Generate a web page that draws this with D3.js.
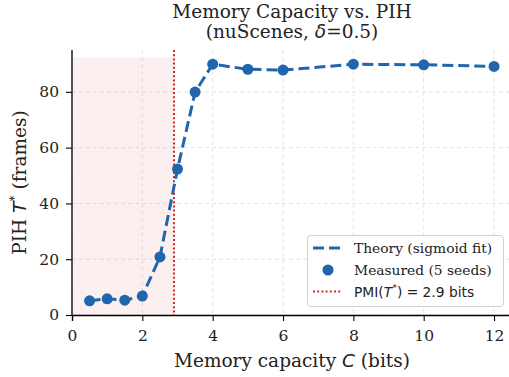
<!DOCTYPE html>
<html>
<head>
<meta charset="utf-8">
<script src="https://cdn.jsdelivr.net/npm/d3@7"></script>
<style>
  body { margin: 0; background: #fff; }
  svg { display: block; }
</style>
</head>
<body>
<div id="chart"></div>
<script>
// measured PIH per memory capacity (bits)
var capacity = [0.5, 1.0, 1.5, 2.0, 2.5, 3.0, 3.5, 4.0, 5.0, 6.0, 8.0, 10.0, 12.0];
var pih = [5.1, 5.8, 5.3, 6.8, 20.8, 52.3, 79.9, 89.9, 88.1, 87.8, 89.9, 89.7, 89.1];
var pmiBits = 2.9;
var shadeTop = 92.4;
var xTicks = [0, 2, 4, 6, 8, 10, 12];
var yTicks = [0, 20, 40, 60, 80];

var W = 509, H = 377;
var mLeft = 72, mTop = 50, mBottom = 315;
var SERIF = "DejaVu Serif", SANS = "DejaVu Sans";
var blue = "#2166ac", red = "#d62728";

var svg = d3.select("#chart").append("svg")
	.attr("width", W)
	.attr("height", H)
	.attr("font-family", SERIF)
	.attr("fill", "#222");

var x = d3.scaleLinear().domain([0, 12.5]).range([mLeft, mLeft + 12.5 * 35.17]);
var y = d3.scaleLinear().domain([0, 95]).range([mBottom, mTop]);

// shaded region below the PMI threshold
svg.append("rect")
	.attr("x", x(0))
	.attr("y", y(shadeTop))
	.attr("width", x(pmiBits) - x(0))
	.attr("height", y(0) - y(shadeTop))
	.attr("fill", red)
	.attr("fill-opacity", 0.075);

// grid
var grid = svg.append("g").attr("stroke", "#b0b0b0").attr("stroke-opacity", 0.45)
	.attr("stroke-dasharray", "4,3").attr("stroke-width", 0.8);
xTicks.forEach(function(t){
	grid.append("line").attr("x1", x(t)).attr("x2", x(t)).attr("y1", mTop).attr("y2", mBottom);
});
yTicks.forEach(function(t){
	grid.append("line").attr("x1", mLeft).attr("x2", W).attr("y1", y(t)).attr("y2", y(t));
});

// pmi line
svg.append("line")
	.attr("x1", x(pmiBits)).attr("x2", x(pmiBits))
	.attr("y1", mTop).attr("y2", mBottom)
	.attr("stroke", red)
	.attr("stroke-width", 2)
	.attr("stroke-dasharray", "2,2.2");

var pts = capacity.map(function(c, i){ return [c, pih[i]]; });

// theory curve (dashed)
svg.append("path")
	.datum(pts)
	.attr("d", d3.line().x(function(d){ return x(d[0]); }).y(function(d){ return y(d[1]); }))
	.attr("fill", "none")
	.attr("stroke", blue)
	.attr("stroke-width", 3)
	.attr("stroke-dasharray", "11,5");

// measured points
svg.selectAll("circle.pt").data(pts).enter().append("circle")
	.attr("class", "pt")
	.attr("cx", function(d){ return x(d[0]); })
	.attr("cy", function(d){ return y(d[1]); })
	.attr("r", 5.5)
	.attr("fill", blue);

// axes
var xAxis = svg.append("g").attr("transform", "translate(0," + mBottom + ")")
	.call(d3.axisBottom(x).tickValues(xTicks).tickSize(6).tickPadding(9).tickFormat(d3.format("d")));
var yAxis = svg.append("g").attr("transform", "translate(" + mLeft + ",0)")
	.call(d3.axisLeft(y).tickValues(yTicks).tickSize(6).tickPadding(7).tickFormat(d3.format("d")));
[xAxis, yAxis].forEach(function(a){
	a.select(".domain").attr("stroke", "#000").attr("stroke-width", 1.3);
	a.selectAll(".tick line").attr("stroke", "#000").attr("stroke-width", 1.1);
	a.selectAll(".tick text").attr("font-family", SERIF).attr("font-size", 15.5).attr("fill", "#222");
});
yAxis.select(".domain").attr("d", "M0," + mBottom + "V" + mTop);

// title
svg.append("text").attr("x", 292).attr("y", 18).attr("text-anchor", "middle")
	.attr("font-size", 18.5).text("Memory Capacity vs. PIH");
var t2 = svg.append("text").attr("x", 292).attr("y", 38).attr("text-anchor", "middle").attr("font-size", 18.5);
t2.append("tspan").text("(nuScenes, ");
t2.append("tspan").attr("font-family", SANS).attr("font-style", "italic").text("δ");
t2.append("tspan").text("=0.5)");

// x label
var xl = svg.append("text").attr("x", 292).attr("y", 367).attr("text-anchor", "middle").attr("font-size", 18.5);
xl.append("tspan").text("Memory capacity ");
xl.append("tspan").attr("font-family", SANS).attr("font-style", "italic").text("C");
xl.append("tspan").text(" (bits)");

// y label
var yl = svg.append("text").attr("transform", "translate(26," + ((mTop + mBottom) / 2) + ") rotate(-90)")
	.attr("text-anchor", "middle").attr("font-size", 18.5);
yl.append("tspan").text("PIH ");
yl.append("tspan").attr("font-family", SANS).attr("font-style", "italic").text("T");
yl.append("tspan").attr("font-family", SANS).attr("font-size", 12.5).attr("dy", -8).text("*");
yl.append("tspan").attr("dy", 8).text(" (frames)");

// legend
var lg = svg.append("g");
lg.append("rect").attr("x", 307.5).attr("y", 235.5).attr("width", 196).attr("height", 71).attr("rx", 3)
	.attr("fill", "#fff").attr("fill-opacity", 0.85).attr("stroke", "#d0d0d0");
lg.append("line").attr("x1", 313).attr("x2", 342).attr("y1", 248).attr("y2", 248)
	.attr("stroke", blue).attr("stroke-width", 3).attr("stroke-dasharray", "11,5");
lg.append("circle").attr("cx", 328).attr("cy", 270).attr("r", 5.5).attr("fill", blue);
lg.append("line").attr("x1", 313).attr("x2", 342).attr("y1", 291.5).attr("y2", 291.5)
	.attr("stroke", red).attr("stroke-width", 2).attr("stroke-dasharray", "2,2.2");
lg.append("text").attr("x", 354).attr("y", 253).attr("font-size", 13.8).text("Theory (sigmoid fit)");
lg.append("text").attr("x", 354).attr("y", 275).attr("font-size", 13.8).text("Measured (5 seeds)");
var pl = lg.append("text").attr("x", 354).attr("y", 296.5).attr("font-size", 13.8).attr("font-family", SANS);
pl.append("tspan").text("PMI(");
pl.append("tspan").attr("font-style", "italic").text("T");
pl.append("tspan").attr("font-size", 9.5).attr("dy", -6).text("*");
pl.append("tspan").attr("dy", 6).text(") = 2.9 bits");
</script>
</body>
</html>
